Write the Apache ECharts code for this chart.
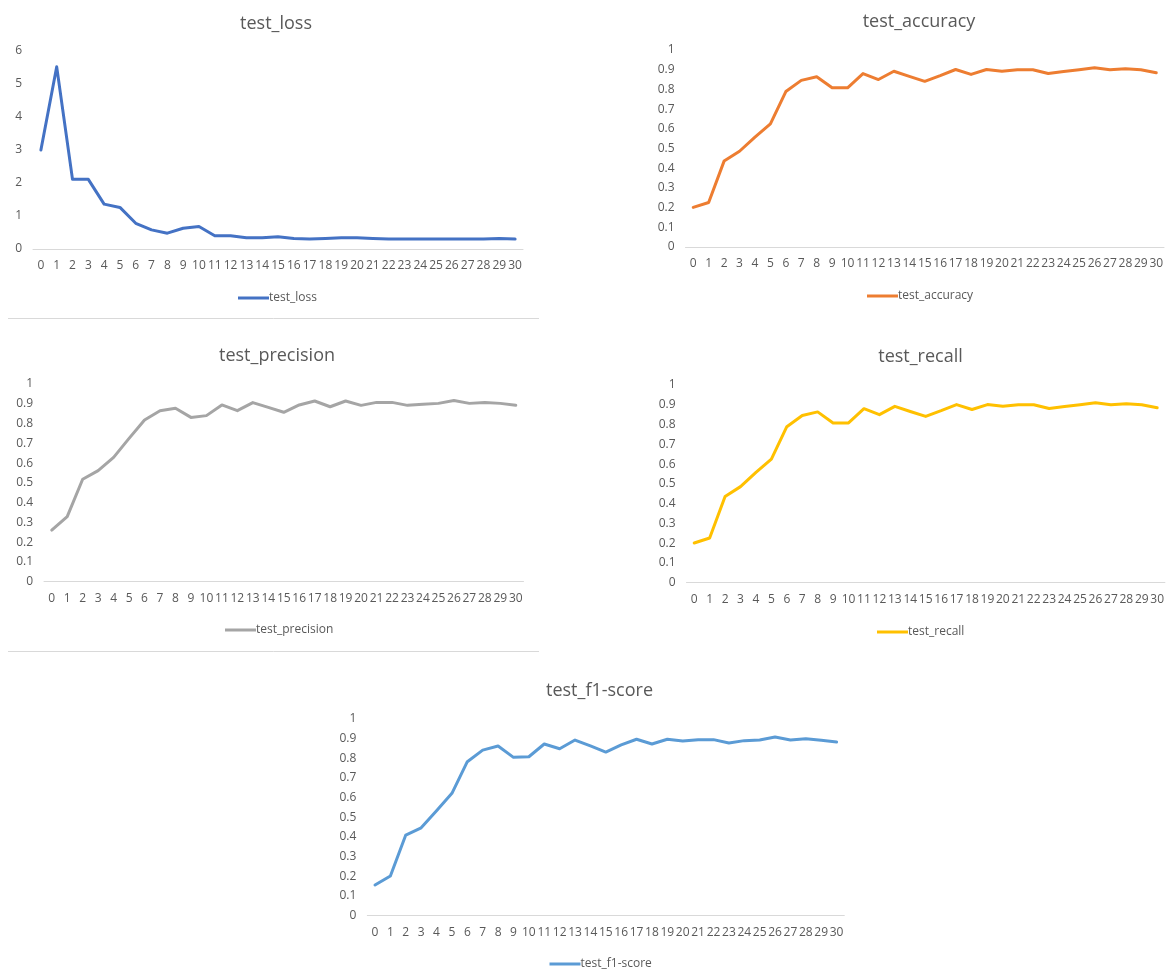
<!DOCTYPE html>
<html>
<head>
<meta charset="utf-8">
<title>Test metrics</title>
<script src="https://cdn.jsdelivr.net/npm/echarts@6/dist/echarts.min.js"></script>
<style>
  html, body { margin: 0; padding: 0; background: #ffffff; }
  #chart { width: 1167px; height: 979px; }
</style>
</head>
<body>
<div id="chart"></div>
<script>
// Epoch indices shown on every x axis
const epochs = Array.from({ length: 31 }, (_, i) => String(i));

// Per-epoch test metrics
const testLoss = [3.00, 5.52, 2.11, 2.11, 1.36, 1.26, 0.78, 0.58, 0.48, 0.63, 0.68,
  0.40, 0.40, 0.34, 0.34, 0.37, 0.32, 0.30, 0.32, 0.34, 0.34,
  0.32, 0.30, 0.30, 0.30, 0.30, 0.30, 0.30, 0.30, 0.32, 0.30];

const testAccuracy = [0.201, 0.226, 0.436, 0.486, 0.558, 0.625, 0.789, 0.846, 0.864, 0.808, 0.808,
  0.880, 0.850, 0.892, 0.866, 0.841, 0.870, 0.901, 0.876, 0.901, 0.892,
  0.900, 0.900, 0.881, 0.891, 0.900, 0.910, 0.900, 0.905, 0.900, 0.885];

const testPrecision = [0.261, 0.329, 0.518, 0.562, 0.629, 0.725, 0.818, 0.865, 0.877, 0.831, 0.840,
  0.894, 0.865, 0.906, 0.882, 0.857, 0.894, 0.914, 0.885, 0.914, 0.892,
  0.907, 0.907, 0.892, 0.897, 0.902, 0.917, 0.902, 0.907, 0.902, 0.892];

const testRecall = [0.201, 0.226, 0.436, 0.486, 0.558, 0.625, 0.789, 0.846, 0.864, 0.808, 0.808,
  0.880, 0.850, 0.892, 0.866, 0.841, 0.870, 0.901, 0.876, 0.901, 0.892,
  0.900, 0.900, 0.881, 0.891, 0.900, 0.910, 0.900, 0.905, 0.900, 0.885];

const testF1 = [0.156, 0.202, 0.410, 0.447, 0.534, 0.622, 0.783, 0.842, 0.863, 0.805, 0.808,
  0.873, 0.849, 0.893, 0.863, 0.832, 0.868, 0.897, 0.873, 0.897, 0.888,
  0.895, 0.895, 0.878, 0.890, 0.893, 0.908, 0.893, 0.900, 0.892, 0.883];

// Panel layout: plot rectangle, title anchor and legend anchor for each metric
const panels = [
  { name: 'test_loss',      data: testLoss,      color: '#4472C4', max: 6, interval: 1,
    grid: { left: 33, top: 51, width: 490, height: 198 }, title: [271, 10], legend: [233, 287] },
  { name: 'test_accuracy',  data: testAccuracy,  color: '#ED7D31', max: 1, interval: 0.1,
    grid: { left: 685.5, top: 50, width: 478.5, height: 197 }, title: [914, 8], legend: [862, 285] },
  { name: 'test_precision', data: testPrecision, color: '#A5A5A5', max: 1, interval: 0.1,
    grid: { left: 44, top: 384, width: 479.5, height: 197.7 }, title: [272, 342], legend: [220, 619] },
  { name: 'test_recall',    data: testRecall,    color: '#FFC000', max: 1, interval: 0.1,
    grid: { left: 686.5, top: 385, width: 482, height: 197.7 }, title: [915.5, 343], legend: [872, 621] },
  { name: 'test_f1-score',  data: testF1,        color: '#5B9BD5', max: 1, interval: 0.1,
    grid: { left: 367.3, top: 719, width: 477, height: 196.7 }, title: [594.5, 677], legend: [544.5, 953] }
];

const textColor = '#595959';
const fontFamily = '"Open Sans", "DejaVu Sans", sans-serif';

const option = {
  animation: false,
  backgroundColor: '#ffffff',
  title: panels.map(p => ({
    text: p.name,
    left: p.title[0],
    top: p.title[1],
    textAlign: 'center',
    textStyle: { color: textColor, fontSize: 18, fontWeight: 'normal', fontFamily }
  })),
  legend: panels.map(p => ({
    data: [p.name],
    left: p.legend[0],
    top: p.legend[1],
    icon: 'rect',
    itemWidth: 31,
    itemHeight: 3,
    itemGap: 0,
    selectedMode: false,
    textStyle: { color: textColor, fontSize: 12, fontFamily, padding: [0, 0, 0, -5] }
  })),
  grid: panels.map(p => Object.assign({ containLabel: false }, p.grid)),
  xAxis: panels.map((p, i) => ({
    type: 'category',
    gridIndex: i,
    data: epochs,
    boundaryGap: true,
    axisLine: { lineStyle: { color: '#D9D9D9', width: 1 } },
    axisTick: { show: false },
    axisLabel: { interval: 0, color: textColor, fontSize: 12, fontFamily, margin: 11 },
    splitLine: { show: false }
  })),
  yAxis: panels.map((p, i) => ({
    type: 'value',
    gridIndex: i,
    min: 0,
    max: p.max,
    interval: p.interval,
    axisLine: { show: false },
    axisTick: { show: false },
    splitLine: { show: false },
    axisLabel: {
      color: textColor, fontSize: 12, fontFamily, margin: 11,
      formatter: v => String(Math.round(v * 10) / 10)
    }
  })),
  series: panels.map((p, i) => ({
    name: p.name,
    type: 'line',
    xAxisIndex: i,
    yAxisIndex: i,
    data: p.data,
    showSymbol: false,
    symbol: 'none',
    color: p.color,
    lineStyle: { color: p.color, width: 3, cap: 'round', join: 'round' }
  })),
  graphic: [
    // thin dividers between the left-hand panels
    { type: 'line', shape: { x1: 8, y1: 318.5, x2: 539, y2: 318.5 },
      style: { stroke: '#D9D9D9', lineWidth: 1 } },
    { type: 'line', shape: { x1: 8, y1: 651.5, x2: 539, y2: 651.5 },
      style: { stroke: '#D9D9D9', lineWidth: 1 } }
  ]
};

const chart = echarts.init(document.getElementById('chart'), null, { renderer: 'canvas' });
chart.setOption(option);
</script>
</body>
</html>
